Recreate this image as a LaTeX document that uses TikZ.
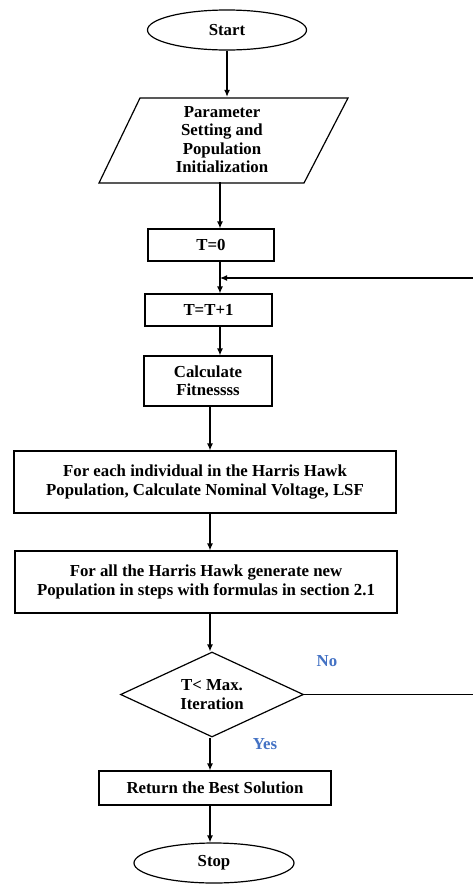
\documentclass[tikz,border=0pt]{standalone}
\usepackage{fontspec}
\setmainfont{Liberation Serif}
\usetikzlibrary{arrows.meta,shapes.geometric,calc}

\definecolor{lblue}{HTML}{4472C4}

\tikzset{
    txt/.style={inner sep=0pt, align=center, font=\bfseries\fontsize{16.8}{18.3}\selectfont},
    box/.style={txt, draw, line width=1.2pt, rectangle},
    term/.style={txt, draw, line width=1.2pt, ellipse},
    decide/.style={txt, draw, line width=1.2pt, diamond, aspect=2},
    arr/.style={-{Latex[length=7pt,width=6pt]}, line width=1.2pt},
    lbl/.style={txt, text=lblue}
}

\begin{document}
\begin{tikzpicture}[x=1pt, y=-1pt]

\useasboundingbox (0,0) rectangle (473,884);

% Terminals
\node[term, minimum width=159, minimum height=40] (start) at (227,30) {Start};
\node[term, minimum width=160, minimum height=40] (stop) at (214,863) {Stop};

% Input
\draw[line width=1.2pt] (99,183) -- (140,98) -- (348,98) -- (304,183) -- cycle;
\node[txt, minimum width=200, minimum height=85] (param) at (222,139.5)
    {Parameter\\Setting and\\Population\\Initialization};

% Process boxes
\node[box, minimum width=126, minimum height=32] (t0) at (211,245) {T=0};
\node[box, minimum width=127, minimum height=32] (t1) at (208.5,310) {T=T+1};
\node[box, minimum width=128, minimum height=50] (fit) at (208,381) {Calculate\\Fitnessss};
\node[box, minimum width=382, minimum height=62] (hawk1) at (205,482)
    {For each individual in the Harris Hawk\\Population, Calculate Nominal Voltage, LSF};
\node[box, minimum width=382, minimum height=62] (hawk2) at (206,582)
    {For all the Harris Hawk generate new\\Population in steps with formulas in section 2.1};

% Decision
\node[decide, minimum width=183, minimum height=85] (dec) at (212,694.5) {T< Max.\\Iteration};
\node[box, minimum width=232, minimum height=34] (best) at (215,788) {Return the Best Solution};

% Labels
\node[lbl] (no) at (327,661) {No};
\node[lbl] (yes) at (265,744) {Yes};

% Columns for the arrows
\coordinate (col) at (220,278);
\coordinate (col2) at (210,0);
\coordinate (edge) at (474.5,0);

% Arrows
\draw[arr] (start.south) -- (start.south |- param.north);
\draw[arr] (param.south -| col) -- (t0.north -| col);
\draw[arr] (t0.south -| col) -- (t1.north -| col);
\draw[arr] (t1.south -| col) -- (fit.north -| col);
\draw[arr] (fit.south -| col2) -- (hawk1.north -| col2);
\draw[arr] (hawk1.south -| col2) -- (hawk2.north -| col2);
\draw[arr] (hawk2.south -| col2) -- (dec.north -| col2);
\draw[arr] (dec.south -| col2) -- (best.north -| col2);
\draw[arr] (best.south -| col2) -- (stop.north -| col2);

% Loop back
\draw[arr] (dec.east) -- (dec.east -| edge) |- (col);

\end{tikzpicture}
\end{document}
